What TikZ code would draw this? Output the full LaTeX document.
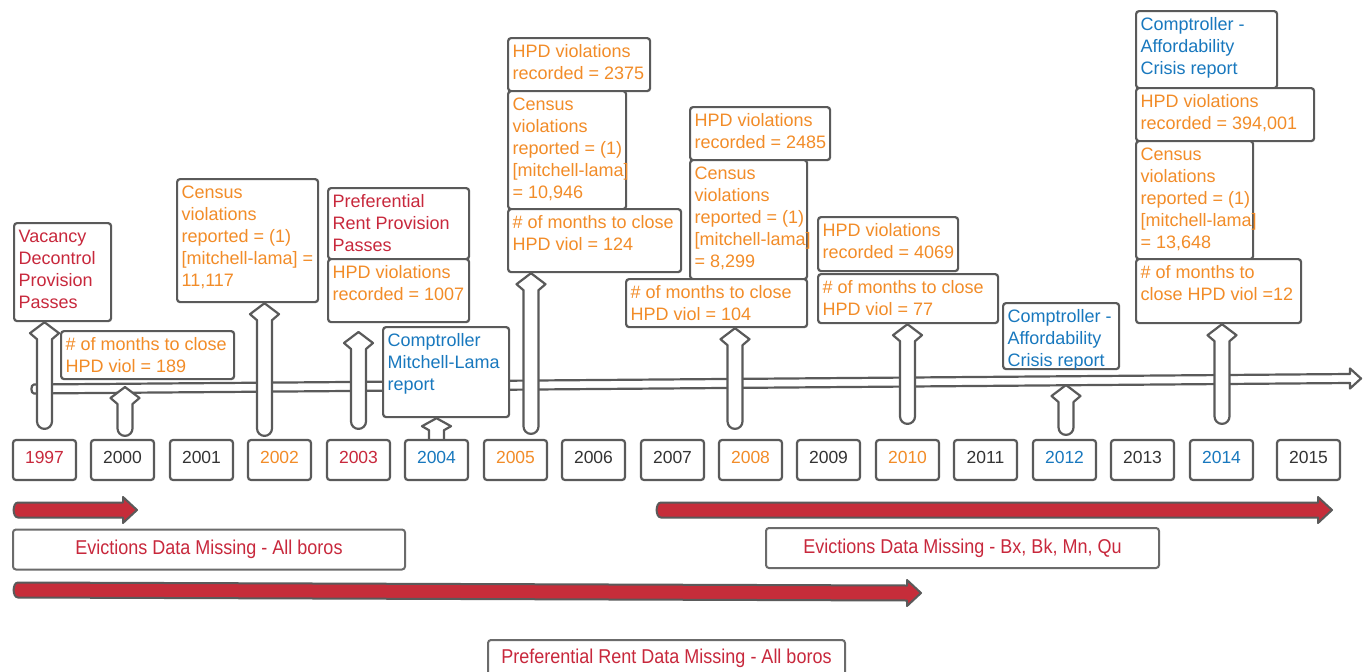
\documentclass[tikz,border=0pt]{standalone}
\usepackage{fontspec}
\setmainfont{Liberation Sans}
\newfontfamily\narrowsans[FakeStretch=0.9]{Liberation Sans}
\usetikzlibrary{calc}
\definecolor{bgray}{HTML}{5A5A5A}
\definecolor{tred}{HTML}{C8283C}
\definecolor{torange}{HTML}{F28C28}
\definecolor{tblue}{HTML}{1878BE}
\definecolor{tdark}{HTML}{333333}
\definecolor{afill}{HTML}{C62D3A}
\pgfdeclarelayer{back}
\pgfdeclarelayer{mid}
\pgfsetlayers{back,mid,main}
\tikzset{
  evb/.style={draw=bgray, line width=2.2pt, rounded corners=3pt, fill=white,
    inner xsep=4.5pt, inner ysep=3.6pt, font=\fontsize{18}{22}\selectfont, anchor=north west},
  yearbox/.style={draw=bgray, line width=2.2pt, rounded corners=3pt, fill=white,
    minimum width=63pt, minimum height=40pt, inner sep=0pt, text height=12.5pt, text depth=5.9pt,
    font=\fontsize{17.5}{20}\selectfont},
  blockarr/.style={draw=bgray, line width=2.2pt, fill=white, line join=round},
  redarr/.style={draw=bgray, line width=2pt, fill=afill, line join=round},
  gapbox/.style={draw=bgray!90, line width=2pt, rounded corners=3pt, fill=white, text=tred,
    font=\narrowsans\fontsize{20}{24}\selectfont, inner sep=0pt}
}
% name, x, y, w, h, colour, text
\newcommand\evbox[7]{\node[evb, text=#6] (#1) at (#2,#3)
  {\parbox[t][\dimexpr#5pt-7.2pt\relax][t]{\dimexpr#4pt-9pt\relax}{\begin{tabular}[t]{@{}l@{}}#7\end{tabular}}};}
% head sizes: wing depth and head depth
\def\hwing{11}\def\hdepth{17}
% year node, x offset, tip coordinate, bottom gap
\newcommand\uparr[4]{\path[blockarr] let \p1=($(#1.north)+(#2pt,0)$), \p2=#3 in
  (\x1,\y2) -- ({\x1+14.5pt},{\y2-\hwing pt}) -- ({\x1+7.5pt},{\y2-\hdepth pt})
  -- ({\x1+7.5pt},{\y1+#4pt+7.5pt}) arc[start angle=0,end angle=-180,radius=7.5pt]
  -- ({\x1-7.5pt},{\y2-\hdepth pt}) -- ({\x1-14.5pt},{\y2-\hwing pt}) -- cycle;}
% x1, y1, x2, y2 of centre line
\newcommand\redarrow[4]{\draw[redarr] (#1+6,#2-7.5) -- (#3-14,#4-7.5) -- (#3-14,#4-13)
  -- (#3,#4) -- (#3-14,#4+13) -- (#3-14,#4+7.5) -- (#1+6,#2+7.5)
  to[out=180,in=180] (#1+6,#2-7.5) -- cycle;}
\begin{document}
\begin{tikzpicture}[x=1pt,y=-1pt]
\useasboundingbox (0,0) rectangle (1369,672);
\clip (0,0) rectangle (1369,672);
\begin{pgfonlayer}{back}
\fill[white] (0,0) rectangle (1369,672);
% main timeline
\draw[blockarr] (34,384.5) -- (1350,374) -- (1350,368.5) -- (1361,378.5) -- (1350,388.5)
  -- (1350,383) -- (34,393.5) to[out=180,in=180] (34,384.5) -- cycle;
\end{pgfonlayer}

% year boxes
\node[yearbox, text=tred]    (y1997) at (44.5,460)   {1997};
\node[yearbox, text=tdark]   (y2000) at (122.5,460)  {2000};
\node[yearbox, text=tdark]   (y2001) at (201.5,460)  {2001};
\node[yearbox, text=torange] (y2002) at (279.5,460)  {2002};
\node[yearbox, text=tred]    (y2003) at (358.5,460)  {2003};
\node[yearbox, text=tblue]   (y2004) at (436.5,460)  {2004};
\node[yearbox, text=torange] (y2005) at (515.5,460)  {2005};
\node[yearbox, text=tdark]   (y2006) at (593.5,460)  {2006};
\node[yearbox, text=tdark]   (y2007) at (672.5,460)  {2007};
\node[yearbox, text=torange] (y2008) at (750.5,460)  {2008};
\node[yearbox, text=tdark]   (y2009) at (828.5,460)  {2009};
\node[yearbox, text=torange] (y2010) at (907.5,460)  {2010};
\node[yearbox, text=tdark]   (y2011) at (985.5,460)  {2011};
\node[yearbox, text=tblue]   (y2012) at (1064.5,460) {2012};
\node[yearbox, text=tdark]   (y2013) at (1142.5,460) {2013};
\node[yearbox, text=tblue]   (y2014) at (1221.5,460) {2014};
\node[yearbox, text=tdark]   (y2015) at (1308.5,460) {2015};

% event boxes
\evbox{vac}{13}{222}{97}{98}{tred}{Vacancy\\Decontrol\\Provision\\Passes}
\evbox{m189}{60}{330}{173}{48}{torange}{\# of months to close\\HPD viol = 189}
\evbox{cen02}{176}{178}{141}{123}{torange}{Census\\violations\\reported = (1)\\{[mitchell-lama]} =\\11,117}
\evbox{pref}{327}{187}{141}{71}{tred}{Preferential\\Rent Provision\\Passes}
\evbox{h1007}{327}{258}{141}{63}{torange}{HPD violations\\recorded = 1007}
\evbox{cml}{382}{326}{126}{90}{tblue}{Comptroller\\Mitchell-Lama\\report}
\evbox{h2375}{507}{37}{142}{53}{torange}{HPD violations\\recorded = 2375}
\evbox{cen05}{507}{90}{118}{118}{torange}{Census\\violations\\reported = (1)\\{[mitchell-lama]}\\= 10,946}
\evbox{m124}{507}{208}{173}{63}{torange}{\# of months to close\\HPD viol = 124}
\evbox{h2485}{689}{106}{140}{53}{torange}{HPD violations\\recorded = 2485}
\evbox{cen08}{689}{159}{117}{119}{torange}{Census\\violations\\reported = (1)\\{[mitchell-lama]}\\= 8,299}
\evbox{m104}{625}{278}{181}{48}{torange}{\# of months to close\\HPD viol = 104}
\evbox{h4069}{817}{216}{140}{54}{torange}{HPD violations\\recorded = 4069}
\evbox{m77}{817}{273}{180}{49}{torange}{\# of months to close\\HPD viol = 77}
\evbox{c12}{1002}{302}{116}{66}{tblue}{Comptroller -\\Affordability\\Crisis report}
\evbox{c14}{1135}{10}{141}{77}{tblue}{Comptroller -\\Affordability\\Crisis report}
\evbox{h394}{1135}{87}{178}{53}{torange}{HPD violations\\recorded = 394,001}
\evbox{cen14}{1135}{140}{117}{118}{torange}{Census\\violations\\reported = (1)\\{[mitchell-lama]}\\= 13,648}
\evbox{m12}{1135}{258}{165}{64}{torange}{\# of months to\\close HPD viol =12}

% free tips of arrows
\coordinate (t2000) at (125,387);
\coordinate (t2003) at (358,332);
\coordinate (t2012) at (1066,385);

\begin{pgfonlayer}{mid}
\uparr{y1997}{0}{(vac.south)}{10}
\uparr{y2000}{2.5}{(t2000)}{3}
\uparr{y2002}{-15}{(cen02.south)}{3}
\uparr{y2003}{0}{(t2003)}{10}
\uparr{y2005}{15.5}{(m124.south)}{5}
\uparr{y2008}{-15.5}{(m104.south)}{10}
\uparr{y2010}{0}{(m77.south)}{15}
\uparr{y2012}{1.5}{(t2012)}{4}
\uparr{y2014}{0.5}{(m12.south)}{15}
\def\hwing{8}\def\hdepth{12}
\uparr{y2004}{0}{(cml.south)}{-8}
\end{pgfonlayer}

% data-missing spans
\redarrow{12}{510}{137}{510}
\redarrow{12}{590}{921}{593}
\redarrow{655}{510}{1332}{510}
\node[gapbox, minimum width=392pt, minimum height=40pt] (gap1) at (209,549.5) {Evictions Data Missing - All boros};
\node[gapbox, minimum width=393pt, minimum height=40pt] (gap2) at (962.5,548) {Evictions Data Missing - Bx, Bk, Mn, Qu};
\node[gapbox, anchor=north, minimum width=357pt, text height=14pt, text depth=40pt, inner ysep=9.5pt] (gap3) at (666.5,639) {Preferential Rent Data Missing - All boros};
\end{tikzpicture}
\end{document}
